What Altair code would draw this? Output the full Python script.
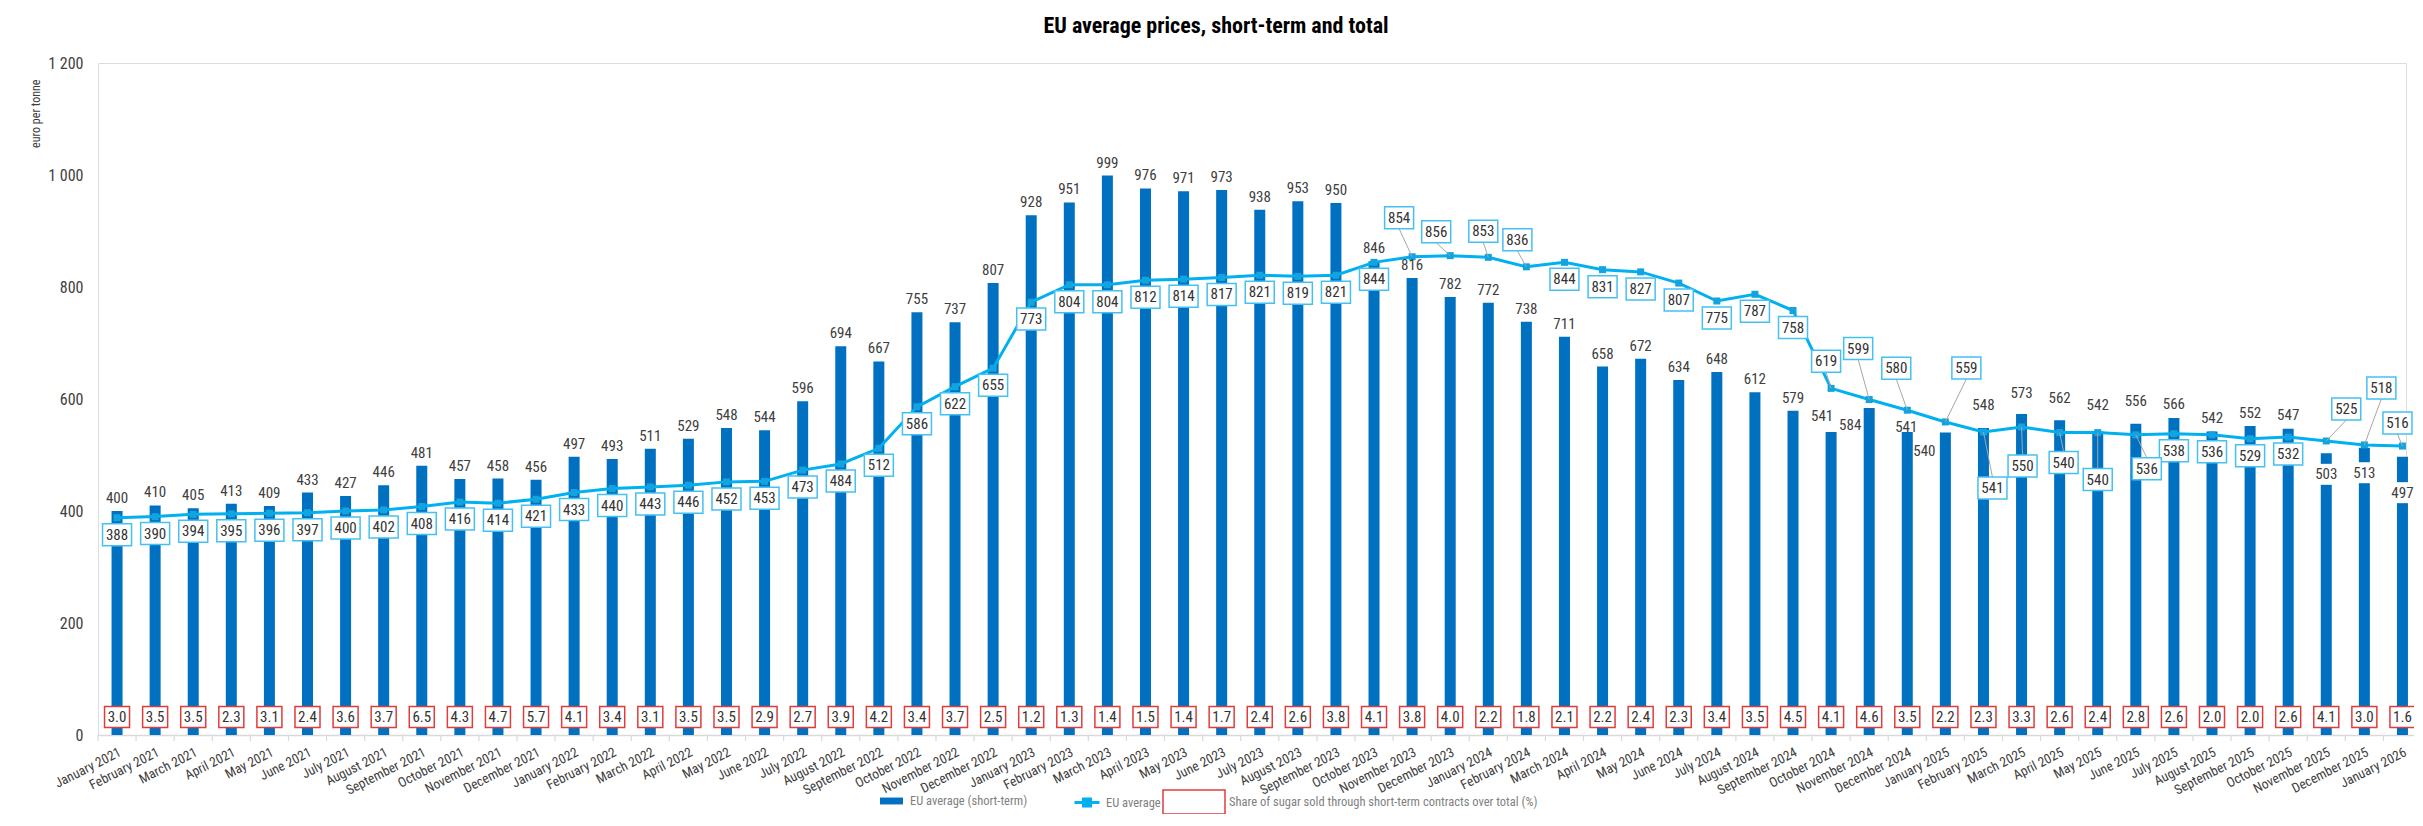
import altair as alt
import pandas as pd

# ---------------- data ----------------
months = [
    "January 2021", "February 2021", "March 2021", "April 2021", "May 2021", "June 2021",
    "July 2021", "August 2021", "September 2021", "October 2021", "November 2021", "December 2021",
    "January 2022", "February 2022", "March 2022", "April 2022", "May 2022", "June 2022",
    "July 2022", "August 2022", "September 2022", "October 2022", "November 2022", "December 2022",
    "January 2023", "February 2023", "March 2023", "April 2023", "May 2023", "June 2023",
    "July 2023", "August 2023", "September 2023", "October 2023", "November 2023", "December 2023",
    "January 2024", "February 2024", "March 2024", "April 2024", "May 2024", "June 2024",
    "July 2024", "August 2024", "September 2024", "October 2024", "November 2024", "December 2024",
    "January 2025", "February 2025", "March 2025", "April 2025", "May 2025", "June 2025",
    "July 2025", "August 2025", "September 2025", "October 2025", "November 2025", "December 2025",
    "January 2026",
]

short_term = [
    400, 410, 405, 413, 409, 433, 427, 446, 481, 457, 458, 456,
    497, 493, 511, 529, 548, 544, 596, 694, 667, 755, 737, 807,
    928, 951, 999, 976, 971, 973, 938, 953, 950, 846, 816, 782,
    772, 738, 711, 658, 672, 634, 648, 612, 579, 541, 584, 541,
    540, 548, 573, 562, 542, 556, 566, 542, 552, 547, 503, 513,
    497,
]

eu_average = [
    388, 390, 394, 395, 396, 397, 400, 402, 408, 416, 414, 421,
    433, 440, 443, 446, 452, 453, 473, 484, 512, 586, 622, 655,
    773, 804, 804, 812, 814, 817, 821, 819, 821, 844, 854, 856,
    853, 836, 844, 831, 827, 807, 775, 787, 758, 619, 599, 580,
    559, 541, 550, 540, 540, 536, 538, 536, 529, 532, 525, 518,
    516,
]

share_pct = [
    3.0, 3.5, 3.5, 2.3, 3.1, 2.4, 3.6, 3.7, 6.5, 4.3, 4.7, 5.7,
    4.1, 3.4, 3.1, 3.5, 3.5, 2.9, 2.7, 3.9, 4.2, 3.4, 3.7, 2.5,
    1.2, 1.3, 1.4, 1.5, 1.4, 1.7, 2.4, 2.6, 3.8, 4.1, 3.8, 4.0,
    2.2, 1.8, 2.1, 2.2, 2.4, 2.3, 3.4, 3.5, 4.5, 4.1, 4.6, 3.5,
    2.2, 2.3, 3.3, 2.6, 2.4, 2.8, 2.6, 2.0, 2.0, 2.6, 4.1, 3.0,
    1.6,
]

SERIES_BAR = "EU average (short-term)"
SERIES_LINE = "EU average"
SERIES_SHARE = "Share of sugar sold through short-term contracts over total (%)"

# ---------------- style ----------------
FONT = "Liberation Sans Narrow, Arial Narrow, Roboto Condensed, Roboto, sans-serif"
BAR_BLUE = "#0070C0"
LINE_BLUE = "#00B0F0"
MARK_BLUE = "#13A3DF"
BOX_BLUE = "#45C1F1"
BOX_RED = "#E03C3C"
TEXT = "#404040"
VALUE_TEXT = "#333333"
LEADER = "#A6A6A6"
LEGEND_TEXT = "#7F7F7F"
AXIS_GREY = "#D9D9D9"

PLOT_W, PLOT_H = 2308, 672
X_RANGE = 2323.5
AVG_BOX_W, AVG_BOX_H = 29, 22
SHARE_BOX_W, SHARE_BOX_H = 25, 21

# label placement (pixel offsets of the label centre from its data point)
AVG_DEFAULT = (0, 17)
avg_offsets = {
    "November 2023": (-13, -39), "December 2023": (-14, -24), "January 2024": (-5, -26),
    "February 2024": (-9, -27), "October 2024": (-5, -27), "November 2024": (-11, -51),
    "December 2024": (-11, -42), "January 2025": (21, -54), "February 2025": (9, 56),
    "March 2025": (1, 39), "April 2025": (4, 30), "May 2025": (0, 47), "June 2025": (11, 34),
    "November 2025": (20, -32), "December 2025": (17, -57), "January 2026": (-5, -23),
}
BAR_DEFAULT = (0, -13)
bar_offsets = {
    "October 2024": (-9, -16), "November 2024": (-19, 17), "December 2024": (-1, -5),
    "January 2025": (-21, 18), "February 2025": (0, -23), "March 2025": (0, -21),
    "April 2025": (0, -22), "May 2025": (0, -26), "June 2025": (0, -23),
    "July 2025": (0, -14), "August 2025": (0, -13), "September 2025": (0, -13),
    "October 2025": (0, -14), "November 2025": (0, 21), "December 2025": (0, 25),
    "January 2026": (0, 36),
}
bar_label_white = ["November 2025", "December 2025", "January 2026"]
SHARE_DY = -18
LEGEND_CY = 738  # legend row centre, relative to the plot top


def box_path(cx, cy, w, h):
    return f"M{cx - w / 2},{cy - h / 2}h{w}v{h}h{-w}Z"


def group_offsets(offsets, default):
    groups = {}
    for m in months:
        groups.setdefault(offsets.get(m, default), []).append(m)
    return groups


def legend(x, slot, offset, **kw):
    return alt.Legend(orient="none", legendX=x, legendY=LEGEND_CY - slot / 2, title=None,
                      labelFont=FONT, labelFontSize=12.5, labelColor=LEGEND_TEXT,
                      labelOffset=offset, labelLimit=600, symbolSize=slot * slot, **kw)


df = pd.DataFrame({"month": months, "short": short_term, "avg": eu_average, "share": share_pct})

x_axis = alt.Axis(title=None, labelAngle=-27, labelAlign="right", labelBaseline="top",
                  labelFont=FONT, labelFontSize=13.5, labelColor=TEXT, labelPadding=10,
                  domainColor=AXIS_GREY, domainWidth=1.5, ticks=False, grid=False,
                  labelOverlap=False)
x_scale = alt.Scale(range=[0, X_RANGE], paddingInner=0, paddingOuter=0)


def X(band_pos=None):
    if band_pos is None:
        return alt.X("month:N", sort=months, scale=x_scale, axis=x_axis)
    return alt.X("month:N", sort=months, scale=x_scale, axis=x_axis, bandPosition=band_pos)


y_scale = alt.Scale(domain=[0, 1200], nice=False)
y_axis = alt.Axis(
    title="euro per tonne", values=[0, 200, 400, 600, 800, 1000, 1200],
    labelExpr="replace(format(datum.value, ','), ',', ' ')",
    domain=False, ticks=False, grid=False, labelFont=FONT, labelFontSize=16,
    labelColor=TEXT, labelPadding=15,
    titleFont=FONT, titleFontSize=12, titleFontWeight="normal", titleColor=TEXT,
    titleAngle=-90, titleX=-63, titleY=16, titleAlign="right", titleBaseline="middle",
)


def Y(field):
    return alt.Y(field, scale=y_scale, axis=y_axis)


base = alt.Chart()
layers = []

# category tick marks below the axis, at the band boundaries
layers.append(base.mark_point(shape="M0,0V6", size=4, filled=False, stroke=AXIS_GREY,
                              strokeWidth=1.2, opacity=1)
              .transform_calculate(base0="0")
              .encode(x=X(0), y=Y("base0:Q")))
layers.append(base.mark_point(shape="M0,0V6", size=4, filled=False, stroke=AXIS_GREY,
                              strokeWidth=1.2, opacity=1)
              .transform_calculate(base0="0")
              .transform_filter(alt.FieldEqualPredicate(field="month", equal=months[-1]))
              .encode(x=X(1), y=Y("base0:Q")))

# bars: short-term average
layers.append(base.mark_bar(size=11)
              .transform_calculate(series=f"'{SERIES_BAR}'")
              .encode(
    x=X(), y=Y("short:Q"),
    fill=alt.Fill("series:N",
                  scale=alt.Scale(domain=[SERIES_BAR], range=[BAR_BLUE]),
                  legend=legend(782, 23, 7, symbolType="M-1,-0.3H1V0.3H-1Z",
                                symbolStrokeWidth=0))))

# line: EU average
layers.append(base.mark_line(strokeWidth=3)
              .transform_calculate(series=f"'{SERIES_LINE}'")
              .encode(
    x=X(), y=Y("avg:Q"),
    stroke=alt.Stroke("series:N",
                      scale=alt.Scale(domain=[SERIES_LINE], range=[LINE_BLUE]),
                      legend=legend(975, 25, 5,
                                    symbolType="M-1,0H1M-0.28,-0.28H0.28V0.28H-0.28Z",
                                    symbolStrokeWidth=3, symbolFillColor=MARK_BLUE))))
layers.append(base.mark_point(shape="square", filled=True, size=49, color=MARK_BLUE, opacity=1)
              .encode(x=X(), y=Y("avg:Q")))

# EU average labels
for (dx, dy), ms in group_offsets(avg_offsets, AVG_DEFAULT).items():
    filt = alt.FieldOneOfPredicate(field="month", oneOf=ms)
    if (dx, dy) != AVG_DEFAULT:
        ey = dy - AVG_BOX_H / 2 if dy > 0 else dy + AVG_BOX_H / 2
        layers.append(base.mark_point(shape=f"M0,0L{dx},{ey}", size=4, filled=False,
                                      stroke=LEADER, strokeWidth=1, opacity=1)
                      .encode(x=X(), y=Y("avg:Q")).transform_filter(filt))
    layers.append(base.mark_point(shape=box_path(dx, dy, AVG_BOX_W, AVG_BOX_H), size=4,
                                  filled=True, fill="white", stroke=BOX_BLUE, strokeWidth=1.5,
                                  opacity=1)
                  .encode(x=X(), y=Y("avg:Q")).transform_filter(filt))
    layers.append(base.mark_text(dx=dx, dy=dy, baseline="middle", align="center", font=FONT,
                                 fontSize=15, color=VALUE_TEXT)
                  .encode(x=X(), y=Y("avg:Q"), text=alt.Text("avg:Q", format="d"))
                  .transform_filter(filt))

# short-term bar labels
for (dx, dy), ms in group_offsets(bar_offsets, BAR_DEFAULT).items():
    filt = alt.FieldOneOfPredicate(field="month", oneOf=ms)
    white = [m for m in ms if m in bar_label_white]
    if white:
        layers.append(base.mark_point(shape=box_path(dx, dy, 28, 21), size=4, filled=True,
                                      fill="white", strokeWidth=0, opacity=1)
                      .encode(x=X(), y=Y("short:Q"))
                      .transform_filter(alt.FieldOneOfPredicate(field="month", oneOf=white)))
    layers.append(base.mark_text(dx=dx, dy=dy, baseline="middle", align="center", font=FONT,
                                 fontSize=15, color=TEXT)
                  .encode(x=X(), y=Y("short:Q"), text=alt.Text("short:Q", format="d"))
                  .transform_filter(filt))

# share boxes at the base of the bars
layers.append(base.mark_point(shape=box_path(0, SHARE_DY, SHARE_BOX_W, SHARE_BOX_H), size=4,
                              filled=False, fill="white", strokeWidth=1.5, opacity=1)
              .transform_calculate(base0="0", series=f"'{SERIES_SHARE}'")
              .encode(x=X(), y=Y("base0:Q"),
                      color=alt.Color(
                          "series:N",
                          scale=alt.Scale(domain=[SERIES_SHARE], range=[BOX_RED]),
                          legend=legend(1064, 62, 3, symbolType="M-1,-0.39H1V0.39H-1Z",
                                        symbolStrokeWidth=1.5, symbolFillColor="white"))))
layers.append(base.mark_text(dy=SHARE_DY, baseline="middle", align="center", font=FONT,
                             fontSize=15, color=VALUE_TEXT)
              .transform_calculate(base0="0")
              .encode(x=X(), y=Y("base0:Q"), text=alt.Text("share:Q", format=".1f")))

chart = alt.layer(*layers, data=df).properties(
    width=PLOT_W, height=PLOT_H,
    autosize=alt.AutoSizeParams(type="none"),
    padding={"left": 90, "top": 55, "right": 8, "bottom": 79},
    title=alt.TitleParams("EU average prices, short-term and total", font=FONT, fontSize=22,
                          fontWeight="bold", color="#000000", anchor="middle", dx=-36,
                          offset=17),
).configure_view(stroke=None).configure(background="white")

chart.save("out.html", embed_options={"renderer": "svg", "actions": False})
